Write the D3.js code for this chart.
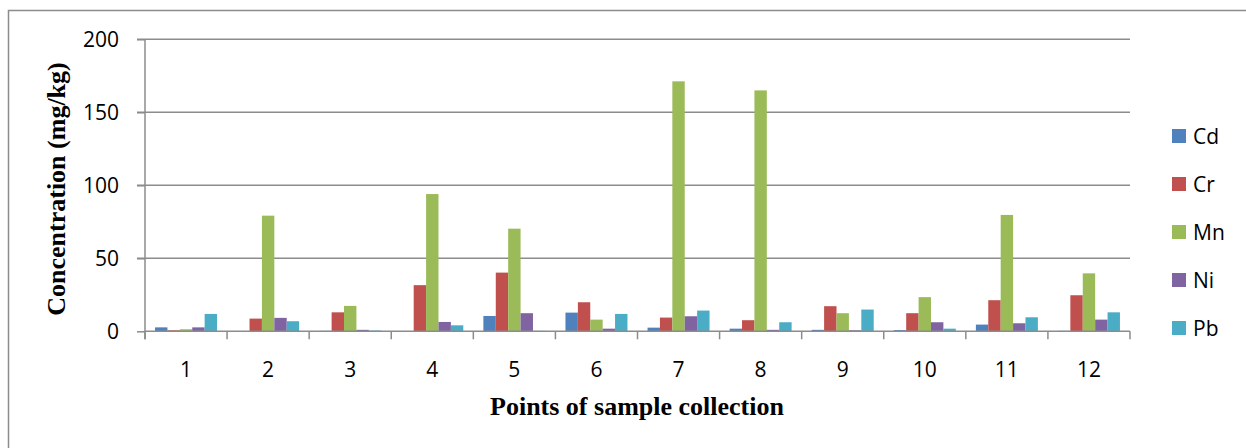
<!DOCTYPE html>
<html><head><meta charset="utf-8">
<script src="https://cdn.jsdelivr.net/npm/d3@7"></script>
<style>body{margin:0;background:#fff;} svg{display:block;}</style>
</head><body>
<svg id="c" width="1246" height="448"></svg>
<script>
const categories = ["1","2","3","4","5","6","7","8","9","10","11","12"];
const seriesNames = ["Cd","Cr","Mn","Ni","Pb"];
const Cd = [2.7, 0, 0.3, 0, 10.5, 12.8, 2.5, 1.8, 1.0, 0.8, 4.6, 0.3];
const Cr = [0.7, 8.7, 13.0, 31.6, 40.2, 19.9, 9.4, 7.6, 17.2, 12.4, 21.3, 24.7];
const Mn = [1.4, 79.2, 17.4, 94.0, 70.3, 8.0, 171.2, 165.0, 12.4, 23.4, 79.7, 39.7];
const Ni = [2.7, 9.2, 1.0, 6.4, 12.4, 1.8, 10.3, 1.0, 0.7, 6.2, 5.5, 8.0];
const Pb = [11.9, 6.9, 0.5, 4.1, 0.3, 11.9, 14.2, 6.2, 14.9, 1.8, 9.6, 13.0];
const yTicks = [0, 50, 100, 150, 200];
const colors = ["#4F81BD","#C0504D","#9BBB59","#8064A2","#4BACC6"];
const seriesData = [Cd, Cr, Mn, Ni, Pb];

const svg = d3.select("#c");
const gray = "#8c8c8c";
const sansFont = "'Open Sans', sans-serif";
const serifFont = "'Liberation Serif', 'Times New Roman', serif";
const mLeft = 145, mRight = 1130, mTop = 39.3, mBottom = 331.3;

// outer frame
svg.append("rect").attr("x",8.5).attr("y",10.5).attr("width",1400).attr("height",800)
  .attr("fill","none").attr("stroke",gray).attr("stroke-width",1.5);

const x0 = d3.scaleBand().domain(categories).range([mLeft, mRight]).paddingInner(0).paddingOuter(0);
const x1 = d3.scaleBand().domain(seriesNames).range([0, x0.bandwidth()]).paddingInner(0).paddingOuter(0.81);
const y = d3.scaleLinear().domain([0,200]).range([mBottom, mTop]);

// gridlines
svg.append("g").selectAll("line").data(yTicks.filter(d=>d>0)).join("line")
  .attr("x1", mLeft-8).attr("x2", mRight).attr("y1", d=>y(d)).attr("y2", d=>y(d))
  .attr("stroke", gray).attr("stroke-width", 1.5);

// bars
const groups = svg.append("g").selectAll("g").data(categories).join("g")
  .attr("transform", d=>`translate(${x0(d)},0)`);
groups.selectAll("rect").data((c,i)=>seriesNames.map((s,j)=>({s, v: seriesData[j][i], j})))
  .join("rect")
  .attr("x", d=>x1(d.s)).attr("width", x1.bandwidth())
  .attr("y", d=>y(d.v)).attr("height", d=>Math.max(0, y(0)-y(d.v)))
  .attr("fill", d=>colors[d.j]);

// y axis
const yAxis = d3.axisLeft(y).tickValues(yTicks).tickSize(8).tickPadding(18);
const ya = svg.append("g").attr("transform",`translate(${mLeft},0)`).call(yAxis);
ya.select(".domain").attr("stroke", gray).attr("stroke-width",1.5).attr("d", `M0,${mBottom+8}V${mTop}`);
ya.selectAll(".tick line").attr("stroke", gray).attr("stroke-width",1.5);
ya.selectAll(".tick text").attr("font-family",sansFont).attr("font-size",21).attr("fill","#000").attr("dy","0.36em");

// x axis
const xa = svg.append("g").attr("transform",`translate(0,${mBottom})`);
xa.append("line").attr("x1", mLeft).attr("x2", mRight).attr("y1",0).attr("y2",0).attr("stroke",gray).attr("stroke-width",1.5);
const bounds = categories.map(c=>x0(c)).concat([mRight]);
xa.selectAll("line.t").data(bounds).join("line").attr("class","t")
  .attr("x1", d=>d).attr("x2", d=>d).attr("y1",0).attr("y2",8).attr("stroke",gray).attr("stroke-width",1.5);
xa.selectAll("text").data(categories).join("text")
  .attr("x", d=>x0(d)+x0.bandwidth()/2).attr("y", 46)
  .attr("text-anchor","middle").attr("font-family",sansFont).attr("font-size",21).attr("fill","#000")
  .text(d=>d);

// axis titles
svg.append("text").attr("transform","translate(65,189) rotate(-90)")
  .attr("text-anchor","middle").attr("font-family",serifFont)
  .attr("font-weight","bold").attr("font-size",26).text("Concentration (mg/kg)");
svg.append("text").attr("x",637).attr("y",415)
  .attr("text-anchor","middle").attr("font-family",serifFont)
  .attr("font-weight","bold").attr("font-size",26).text("Points of sample collection");

// legend
const lg = svg.append("g").selectAll("g").data(seriesNames).join("g")
  .attr("transform",(d,i)=>`translate(1172,${136 + i*48})`);
lg.append("rect").attr("x",0).attr("y",-7).attr("width",14).attr("height",14).attr("fill",(d,i)=>colors[i]);
lg.append("text").attr("x",21).attr("y",0).attr("dy","0.36em")
  .attr("font-family",sansFont).attr("font-size",21).attr("fill","#000").text(d=>d);
</script>
</body></html>
